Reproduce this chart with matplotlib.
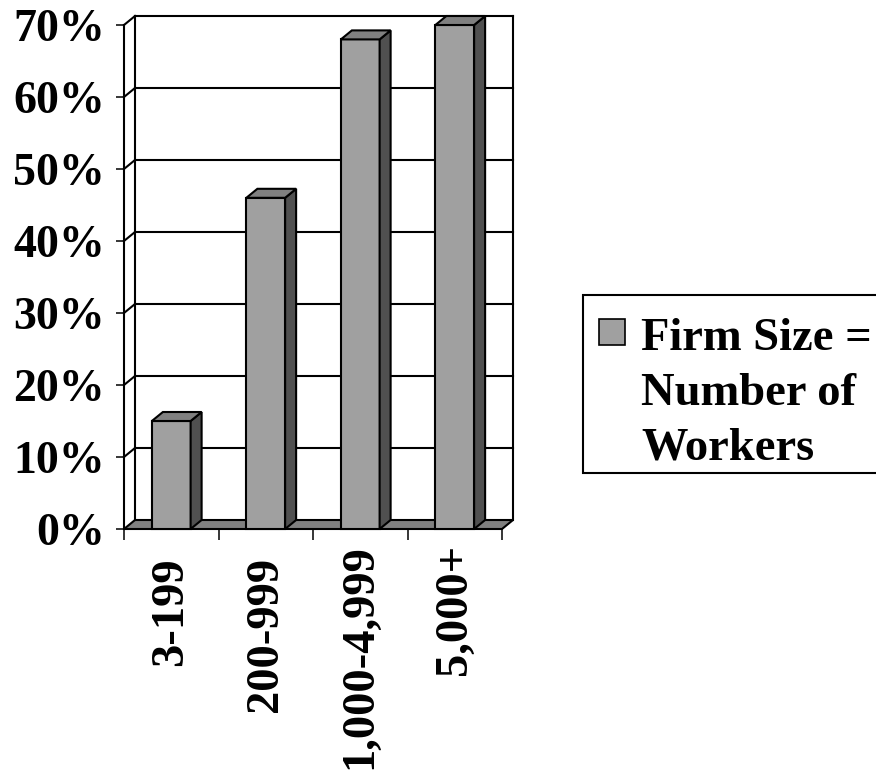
import matplotlib
matplotlib.use("Agg")
import matplotlib.pyplot as plt
import matplotlib.transforms as mtransforms
from matplotlib.patches import Polygon, Rectangle

categories = ["3-199", "200-999", "1,000-4,999", "5,000+"]
values = [15, 46, 68, 70]
yticks = [0, 10, 20, 30, 40, 50, 60, 70]
ytick_labels = ["0%", "10%", "20%", "30%", "40%", "50%", "60%", "70%"]
legend_lines = ["Firm Size =", "Number of", "Workers"]

W, H = 876, 775
fig = plt.figure(figsize=(W / 100, H / 100), dpi=100)
FONT = "Liberation Serif"
FS = 33.5

# axes placement (pixels)
left_px, right_px, bottom_px, top_px = 124, 513, 529, 16
ax = fig.add_axes([left_px / W, (H - bottom_px) / H,
                   (right_px - left_px) / W, (bottom_px - top_px) / H])

DX = 0.1164   # depth offset in category units
DY = 1.25     # depth offset in percent units
n = len(categories)
ymax = yticks[-1]
ax.set_xlim(0, n + DX)
ax.set_ylim(0, ymax + DY)
for s in ax.spines.values():
    s.set_visible(False)

LW = 1.5
FRONT = "#a0a0a0"
SIDE = "#505050"
TOP = "#808080"

# floor
ax.add_patch(Polygon([(0, 0), (n, 0), (n + DX, DY), (DX, DY)], closed=True,
                     facecolor=TOP, edgecolor="black", lw=LW, clip_on=False, zorder=1))
# left wall lines and back gridlines
ax.plot([0, 0], [0, ymax], color="black", lw=LW, clip_on=False, zorder=2)
ax.plot([DX, DX], [DY, ymax + DY], color="black", lw=LW, clip_on=False, zorder=2)
ax.plot([n + DX, n + DX], [DY, ymax + DY], color="black", lw=LW, clip_on=False, zorder=2)
for v in yticks[1:]:
    ax.plot([0, DX], [v, v + DY], color="black", lw=LW, clip_on=False, zorder=2)
    ax.plot([DX, n + DX], [v + DY, v + DY], color="black", lw=LW, clip_on=False, zorder=2)

# bars
BW = 0.41
for i, v in enumerate(values):
    x0 = i + 0.5 - BW / 2
    x1 = i + 0.5 + BW / 2
    ax.add_patch(Polygon([(x0, 0), (x1, 0), (x1, v), (x0, v)], closed=True,
                         facecolor=FRONT, edgecolor="black", lw=LW, clip_on=False, zorder=5))
    ax.add_patch(Polygon([(x1, 0), (x1 + DX, DY), (x1 + DX, v + DY), (x1, v)], closed=True,
                         facecolor=SIDE, edgecolor="black", lw=LW, clip_on=False, zorder=5))
    ax.add_patch(Polygon([(x0, v), (x1, v), (x1 + DX, v + DY), (x0 + DX, v + DY)], closed=True,
                         facecolor=TOP, edgecolor="black", lw=LW, clip_on=False, zorder=5))

# y ticks
ax.set_yticks(yticks)
ax.set_yticklabels(ytick_labels, fontfamily=FONT, fontweight="bold", fontsize=33)
ax.tick_params(axis="y", direction="out", length=5.8, width=1.1, pad=8)

# x ticks at category boundaries, labels at centres
ax.set_xticks(range(n + 1))
ax.set_xticklabels([])
ax.tick_params(axis="x", which="major", direction="out", length=8, width=1.1)
label_drop_px = [28, 28, 15, 15]   # Excel staggers the label tops
base = ax.get_xaxis_transform()
for i, (lab, drop) in enumerate(zip(categories, label_drop_px)):
    tr = base + mtransforms.ScaledTranslation(0, -drop / 100, fig.dpi_scale_trans)
    ax.text(i + 0.5, 0, lab, transform=tr, rotation=90, rotation_mode="default",
            fontfamily=FONT, fontweight="bold", fontsize=FS, va="top", ha="center",
            clip_on=False)

# legend (manual)
fig.add_artist(Rectangle((583 / W, (H - 473) / H), (W + 10 - 583) / W, (473 - 295) / H,
                         transform=fig.transFigure, facecolor="white",
                         edgecolor="black", lw=LW))
fig.add_artist(Rectangle((599 / W, (H - 345) / H), 26 / W, 26 / H,
                         transform=fig.transFigure, facecolor=FRONT,
                         edgecolor="black", lw=1.2))
for k, line in enumerate(legend_lines):
    fig.text(641 / W, (H - (350 + 55 * k)) / H, line, fontfamily=FONT, fontweight="bold",
             fontsize=FS, va="baseline", ha="left")

fig.savefig("out.png", dpi=100)
